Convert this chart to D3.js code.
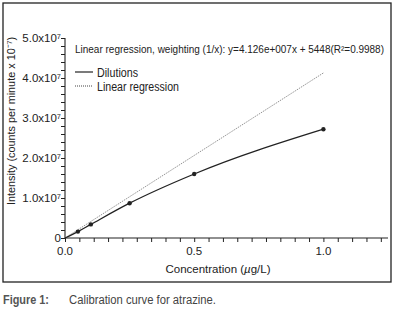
<!DOCTYPE html>
<html><head><meta charset="utf-8">
<script src="https://cdn.jsdelivr.net/npm/d3@7"></script>
<style>
html,body{margin:0;padding:0;background:#fff;}
svg{display:block;}
text{font-family:"Liberation Sans Narrow","Arial Narrow","Liberation Sans",Arial,sans-serif;fill:#222;}
</style></head>
<body>
<script>
// Data
const concentrations = [0, 0.05, 0.1, 0.25, 0.5, 1.0];
const dilutionIntensity = [0, 1.6e6, 3.4e6, 8.7e6, 1.6e7, 2.72e7];
const markerFlags = [false, true, true, true, true, true];
const regSlope = 4.126e7;
const regIntercept = 5448;
const regX = [0, 1.0];
const xTickLabels = ["0.0", "0.5", "1.0"];
const xTickValues = [0, 0.5, 1.0];
const yTickValues = [0, 1e7, 2e7, 3e7, 4e7, 5e7];
const yTickLabels = ["0", "1.0x10⁷", "2.0x10⁷", "3.0x10⁷", "4.0x10⁷", "5.0x10⁷"];
const legendLabels = ["Dilutions", "Linear regression"];
const regressionText = "Linear regression, weighting (1/x): y=4.126e+007x + 5448(R²=0.9988)";

const W = 394, H = 310;
const svg = d3.select("body").append("svg").attr("width", W).attr("height", H);

// frame
svg.append("rect").attr("x", 3).attr("y", 3).attr("width", 388).attr("height", 279)
  .attr("fill", "none").attr("stroke", "#222").attr("stroke-width", 1.3);

const x = d3.scaleLinear().domain([0, 1.25]).range([65, 388]);
const y = d3.scaleLinear().domain([0, 5e7]).range([238, 38]);

// X axis with minor ticks every 0.5/9
const xMinor = d3.range(0, 23).map(i => i * 0.5 / 9).filter(v => v <= 1.25 + 1e-9);
const xAxis = d3.axisBottom(x).tickValues(xMinor).tickSize(4).tickFormat("");
const gx = svg.append("g").attr("transform", `translate(0,${y(0)})`).call(xAxis);
gx.select(".domain").attr("stroke", "#222").attr("stroke-width", 1.1).attr("d", `M${x(0)},0H${x(1.25)}`);
gx.selectAll(".tick line").attr("stroke", "#222");
svg.append("g").selectAll("text").data(xTickValues).join("text")
  .attr("x", d => x(d)).attr("y", 255).attr("text-anchor", "middle")
  .attr("font-size", 11.5).text((d, i) => xTickLabels[i]);

// Y axis minor ticks every 2e6
const yMinor = d3.range(0, 26).map(i => i * 2e6);
const yAxis = d3.axisLeft(y).tickValues(yMinor).tickSize(4).tickFormat("");
const gy = svg.append("g").attr("transform", `translate(${x(0)},0)`).call(yAxis);
gy.select(".domain").attr("stroke", "#222").attr("stroke-width", 1.1).attr("d", `M0,${y(0)}V${y(5e7)}`);
gy.selectAll(".tick line").attr("stroke", "#222");
svg.append("g").selectAll("text").data(yTickValues).join("text")
  .attr("x", 61).attr("y", d => y(d) + 4).attr("text-anchor", "end")
  .attr("font-size", 11.5).text((d, i) => yTickLabels[i]);

// axis titles
svg.append("text").attr("transform", "translate(15,121) rotate(-90)")
  .attr("text-anchor", "middle").attr("font-size", 11.5)
  .attr("textLength", 168).attr("lengthAdjust", "spacingAndGlyphs")
  .text("Intensity (counts per minute x 10⁻⁷)");
const xt = svg.append("text").attr("x", 218).attr("y", 273).attr("text-anchor", "middle")
  .attr("font-size", 11.5);
xt.append("tspan").text("Concentration (");
xt.append("tspan").attr("font-style", "italic").text("µ");
xt.append("tspan").text("g/L)");

// regression line
const regPts = regX.map(v => [v, regSlope * v + regIntercept]);
svg.append("path").datum(regPts)
  .attr("d", d3.line().x(d => x(d[0])).y(d => y(d[1])))
  .attr("fill", "none").attr("stroke", "#777").attr("stroke-width", 0.8)
  .attr("stroke-dasharray", "1.5,1");

// dilutions
const pts = concentrations.map((c, i) => ({x: c, y: dilutionIntensity[i], m: markerFlags[i]}));
svg.append("path").datum(pts)
  .attr("d", d3.line().x(d => x(d.x)).y(d => y(d.y)).curve(d3.curveMonotoneX))
  .attr("fill", "none").attr("stroke", "#222").attr("stroke-width", 1.3);
svg.append("g").selectAll("circle").data(pts.filter(d => d.m)).join("circle")
  .attr("cx", d => x(d.x)).attr("cy", d => y(d.y)).attr("r", 2.2).attr("fill", "#222");

// regression text
svg.append("text").attr("x", 75).attr("y", 53).attr("font-size", 10)
  .attr("textLength", 309).attr("lengthAdjust", "spacingAndGlyphs").text(regressionText);

// legend
const legY = [72, 86];
const legG = svg.append("g");
legG.append("line").attr("x1", 75).attr("x2", 93).attr("y1", legY[0]).attr("y2", legY[0])
  .attr("stroke", "#222").attr("stroke-width", 1.2);
legG.append("line").attr("x1", 75).attr("x2", 93).attr("y1", legY[1]).attr("y2", legY[1])
  .attr("stroke", "#444").attr("stroke-width", 1).attr("stroke-dasharray", "1,1");
legG.selectAll("text").data(legendLabels).join("text")
  .attr("x", 97).attr("y", (d, i) => legY[i] + 4.5).attr("font-size", 12)
  .attr("textLength", (d, i) => [41, 82][i]).attr("lengthAdjust", "spacingAndGlyphs")
  .text(d => d);

// caption
svg.append("text").attr("x", 3).attr("y", 304).attr("font-size", 12).attr("font-weight", "bold")
  .style("fill", "#555").attr("textLength", 46).attr("lengthAdjust", "spacingAndGlyphs")
  .text("Figure 1:");
svg.append("text").attr("x", 69).attr("y", 304).attr("font-size", 12)
  .style("fill", "#444").attr("textLength", 147).attr("lengthAdjust", "spacingAndGlyphs")
  .text("Calibration curve for atrazine.");
</script>
</body></html>
